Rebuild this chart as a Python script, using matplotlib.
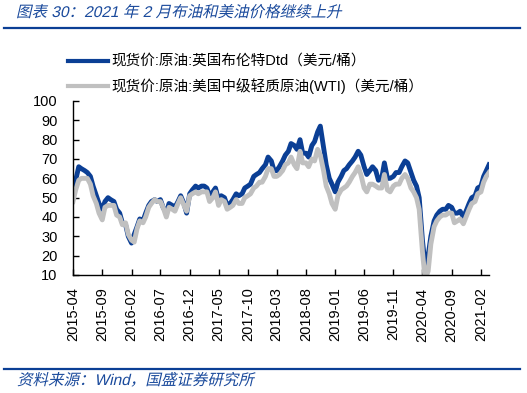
import numpy as np
import pandas as pd
import matplotlib
matplotlib.use("Agg")
import matplotlib.pyplot as plt
from matplotlib.lines import Line2D
from matplotlib.textpath import TextPath
from matplotlib.patches import PathPatch
from matplotlib.font_manager import FontProperties
from matplotlib.transforms import Affine2D

plt.rcParams['font.family'] = ['Liberation Sans', 'Noto Sans CJK SC']

# 半月度取值（每月1日、15日）
brent_2015 = [55, 59, 66, 65, 64, 63, 61, 56, 51, 47, 44, 48, 50, 49, 48, 44, 42, 37]
wti_2015 = [48, 54, 59, 60, 60, 60, 57, 51, 47, 42, 38.5, 45, 46, 46, 46, 41, 40, 36]
brent_2016 = [36, 30, 26.5, 31, 35, 39, 38, 42, 46, 48, 49, 48, 49, 45, 42, 47, 46, 45, 48, 51, 47, 42, 52, 54]
wti_2016 = [37, 31, 28, 27, 34, 38, 37, 40, 45, 47, 49, 48, 48, 45, 40, 45, 44, 43, 47, 50, 46, 43, 51, 52]
brent_2017 = [56, 55, 56, 56, 55, 51, 53, 55, 49, 51, 50, 46, 47, 49, 52, 51, 52, 55, 56, 57, 61, 62, 63, 65]
wti_2017 = [53, 52, 53, 53, 53, 48, 50, 53, 46, 49, 48, 44, 45, 46, 49, 47, 47, 50, 51, 52, 55, 56, 58, 58]
brent_2018 = [67, 71, 69, 64, 64, 66, 69, 72, 74, 78, 77, 75, 80, 73, 73, 71, 77, 79, 84, 87, 76, 67, 60, 57]
wti_2018 = [61, 65, 65, 61, 61, 62, 64, 67, 68, 71, 67, 65, 74, 68, 68, 66, 70, 69, 75, 72, 64, 56, 52, 47]
brent_2019 = [53, 58, 61, 64, 65, 67, 69, 71, 74, 72, 66, 62, 64, 66, 64, 59, 60, 68, 60, 60, 61, 63, 63, 66]
wti_2019 = [44, 51, 54, 55, 56, 58, 61, 63, 66, 62, 55, 53, 57, 57, 56, 55, 55, 62, 54, 53, 56, 57, 57, 60]
brent_2020 = [69, 68, 63, 59, 56, 50, 28, 15, 20, 30, 38, 41, 43, 44, 44, 46, 45, 42, 42, 43, 40, 43, 47, 50]
wti_2020 = [62, 60, 55, 53, 50, 44, 22, 8, 12, 26, 35, 38, 40, 41, 41, 42, 42, 37, 38, 39, 36.5, 40, 44, 47]
brent_2021 = [51, 55, 56, 61, 64, 67]
wti_2021 = [48, 52, 53, 58, 61, 63]

brent = brent_2015 + brent_2016 + brent_2017 + brent_2018 + brent_2019 + brent_2020 + brent_2021
wti = wti_2015 + wti_2016 + wti_2017 + wti_2018 + wti_2019 + wti_2020 + wti_2021
dates = pd.date_range('2015-04-01', '2021-03-15', freq='SMS')

tick_labels = ['2015-04', '2015-09', '2016-02', '2016-07', '2016-12', '2017-05', '2017-10',
               '2018-03', '2018-08', '2019-01', '2019-06', '2019-11', '2020-04', '2020-09', '2021-02']

title = '图表 30：2021 年 2 月布油和美油价格继续上升'
source = '资料来源：Wind，国盛证券研究所'
label_brent = '现货价:原油:英国布伦特Dtd（美元/桶）'
label_wti = '现货价:原油:美国中级轻质原油(WTI)（美元/桶）'

BLUE = '#0B3F95'
GREY = '#C0C0C0'
TXT_BLUE = '#1A4A9C'
W, H = 527, 393

fig = plt.figure(figsize=(W / 100, H / 100), dpi=100)
ax = fig.add_axes([73 / W, 1 - 275 / H, (489 - 73) / W, (275 - 101) / H])

ax.plot(dates, brent, color=BLUE, lw=3.5, solid_joinstyle='round')
ax.plot(dates, wti, color=GREY, lw=3.5, solid_joinstyle='round')

ax.set_ylim(10, 100)
ax.set_yticks(np.arange(10, 101, 10))
ax.set_xlim(dates[0], dates[-1])
ax.set_xticks(pd.to_datetime(tick_labels))
ax.set_xticklabels(tick_labels, rotation=90)

for s in ['top', 'right']:
    ax.spines[s].set_visible(False)
for s in ['left', 'bottom']:
    ax.spines[s].set_linewidth(1.0)
ax.tick_params(axis='y', direction='in', length=4, width=1, labelsize=10.5, pad=11)
ax.tick_params(axis='x', direction='in', length=4, width=1, labelsize=10.5, pad=9)

# 图例
for y, col, txt in [(61, BLUE, label_brent), (86, GREY, label_wti)]:
    fig.add_artist(Line2D([68 / W, 108 / W], [1 - y / H, 1 - y / H], color=col, lw=3.0))
    fig.text(111 / W, 1 - y / H, txt, fontsize=10.5, va='center', ha='left')


def slanted_text(x, y, s, size):
    # 斜体文字：用 TextPath 加剪切变换（像素坐标，原点左下）
    fp = FontProperties(family=['Liberation Sans', 'Noto Sans CJK SC'])
    path = TextPath((0, 0), s, size=size, prop=fp)
    tr = Affine2D().skew_deg(13, 0).translate(x, y)
    fig.add_artist(PathPatch(path, transform=tr, facecolor=TXT_BLUE, edgecolor='none'))


# 标题与来源
slanted_text(16, H - 17, title, 15.5)
fig.add_artist(Line2D([4 / W, 520 / W], [1 - 28 / H, 1 - 28 / H], color=BLUE, lw=1.6))
fig.add_artist(Line2D([4 / W, 520 / W], [1 - 369 / H, 1 - 369 / H], color=BLUE, lw=1.6))
slanted_text(17, H - 385, source, 15.5)

fig.savefig('out.png', dpi=100)
